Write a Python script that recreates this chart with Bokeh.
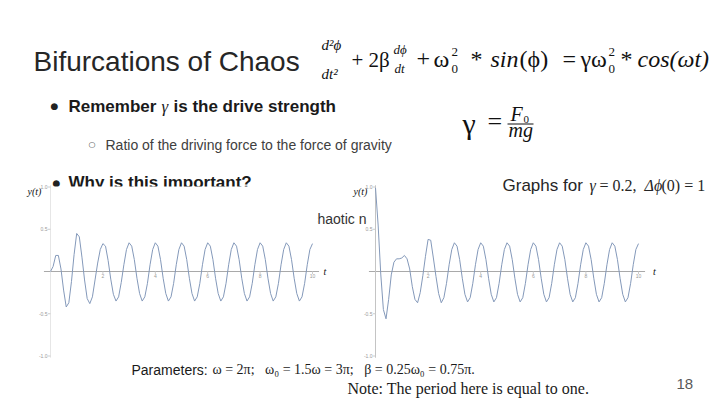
from bokeh.plotting import figure
from bokeh.models import Range1d
from bokeh.core.properties import value
from bokeh.embed import file_html
from bokeh.resources import INLINE

# ---------------- data ----------------
t_vals = [i / 10 for i in range(101)]          # sampling grid, t = 0 .. 10

y_left = [
    0.00, 0.06, 0.19, 0.19, 0.03, -0.22, -0.42, -0.37, -0.12, 0.20,
    0.45, 0.41, 0.17, -0.10, -0.32, -0.38, -0.30, -0.10, 0.10, 0.26,
    0.33, 0.30, 0.13, -0.09, -0.27, -0.35, -0.30, -0.13, 0.08, 0.26,
    0.34, 0.30, 0.14, -0.08, -0.26, -0.35, -0.30, -0.14, 0.08, 0.26,
    0.34, 0.30, 0.14, -0.08, -0.26, -0.35, -0.30, -0.14, 0.08, 0.26,
    0.34, 0.30, 0.14, -0.08, -0.26, -0.35, -0.30, -0.14, 0.08, 0.26,
    0.34, 0.30, 0.14, -0.08, -0.26, -0.35, -0.30, -0.14, 0.08, 0.26,
    0.34, 0.30, 0.14, -0.08, -0.26, -0.35, -0.30, -0.14, 0.08, 0.26,
    0.34, 0.30, 0.14, -0.08, -0.26, -0.35, -0.30, -0.14, 0.08, 0.26,
    0.34, 0.30, 0.14, -0.08, -0.26, -0.35, -0.30, -0.14, 0.08, 0.26,
    0.33,
]

y_right = [
    0.99, 0.55, -0.03, -0.45, -0.56, -0.33, -0.04, 0.11, 0.15, 0.15,
    0.16, 0.19, 0.15, 0.03, -0.18, -0.33, -0.37, -0.25, -0.05, 0.18,
    0.38, 0.37, 0.16, -0.06, -0.26, -0.37, -0.31, -0.14, 0.08, 0.26,
    0.34, 0.30, 0.14, -0.08, -0.27, -0.36, -0.31, -0.14, 0.08, 0.26,
    0.34, 0.30, 0.14, -0.08, -0.27, -0.36, -0.31, -0.14, 0.08, 0.26,
    0.34, 0.30, 0.14, -0.08, -0.27, -0.36, -0.31, -0.14, 0.08, 0.26,
    0.34, 0.30, 0.14, -0.08, -0.27, -0.36, -0.31, -0.14, 0.08, 0.26,
    0.34, 0.30, 0.14, -0.08, -0.27, -0.36, -0.31, -0.14, 0.08, 0.26,
    0.34, 0.30, 0.14, -0.08, -0.27, -0.36, -0.31, -0.14, 0.08, 0.26,
    0.34, 0.30, 0.14, -0.08, -0.27, -0.36, -0.31, -0.14, 0.08, 0.26,
    0.33,
]

x_ticks = [2, 4, 6, 8, 10]
x_tick_labels = ["2", "4", "6", "8", "10"]
y_ticks = [1.0, 0.5, -0.5, -1.0]
y_tick_labels = ["1.0", "0.5", "-0.5", "-1.0"]

# ---------------- figure (screen-pixel coordinates for slide text) ----------------
W, H = 720, 405
p = figure(width=W, height=H, output_backend="svg", toolbar_location=None,
           x_range=Range1d(0, W), y_range=Range1d(H, 0),
           x_axis_type=None, y_axis_type=None, min_border=0)
p.grid.visible = False
p.outline_line_color = None
p.background_fill_color = "white"
p.border_fill_color = "white"

SANS = "Liberation Sans"
SERIF = "Liberation Serif"
NB = "\u00a0"


def T(x, y, s, size, font=SANS, style="normal", color="#262626", align="left",
      baseline="alphabetic"):
    p.text(x=[x], y=[y], text=[s], text_font=value(font), text_font_size=f"{size}px",
           text_font_style=style, text_color=color, text_align=align,
           text_baseline=baseline)


# title
T(33, 61, "Bifurcations of Chaos", 28, color="#262626")

# equation
eq_col = "#111111"
T(321, 44, "d²ϕ", 15, SERIF, "italic", eq_col)
T(321, 73, "dt²", 15, SERIF, "italic", eq_col)
T(351, 59, "+" + NB + "2β", 21, SERIF, "normal", eq_col)
T(393, 49, "dϕ", 13, SERIF, "italic", eq_col)
T(394, 68, "dt", 13, SERIF, "italic", eq_col)
T(416, 58, "+", 24, SERIF, "normal", eq_col)
T(433, 58, "ω", 24, SERIF, "normal", eq_col)
T(451, 51, "2", 13, SERIF, "normal", eq_col)
T(451, 68, "0", 13, SERIF, "normal", eq_col)
T(470, 58, "*", 24, SERIF, "normal", eq_col)
T(490, 58, "sin", 24, SERIF, "italic", eq_col)
T(519, 58, "(ϕ)", 24, SERIF, "normal", eq_col)
T(562, 58, "=", 24, SERIF, "normal", eq_col)
T(580, 58, "γω", 24, SERIF, "normal", eq_col)
T(608, 51, "2", 13, SERIF, "normal", eq_col)
T(608, 68, "0", 13, SERIF, "normal", eq_col)
T(620, 58, "*", 24, SERIF, "normal", eq_col)
T(637, 58, "cos(ωt)", 24, SERIF, "italic", eq_col)

# bullet 1
T(50, 105, "●", 9, "DejaVu Sans", color="#222222")
T(68, 106, "Remember", 17, SANS, "bold", "#1a1a1a")
T(161, 106, "γ", 17, SERIF, "italic", "#1a1a1a")
T(173, 106, "is the drive strength", 17, SANS, "bold", "#1a1a1a")

# gamma = F0 / mg
T(462, 123, "γ", 30, SERIF, "normal", eq_col)
T(487, 121, "=", 26, SERIF, "normal", eq_col)
T(510, 113, "F", 20, SERIF, "italic", eq_col)
T(523, 119, "0", 11, SERIF, "normal", eq_col)
p.line(x=[507, 533], y=[123.5, 123.5], line_color=eq_col, line_width=1)
T(508, 129, "mg", 20, SERIF, "italic", eq_col)

# sub bullet
T(88, 144, "○", 8, "DejaVu Sans", color="#404040")
T(105, 144, "Ratio of the driving force to the force of gravity", 14, SANS, "normal", "#404040")

# bullet 2 (partly hidden under the graphs)
T(52, 182, "●", 9, "DejaVu Sans", color="#222222")
T(68, 182, "Why is this important?", 17, SANS, "bold", "#1a1a1a")
T(310, 218, "chaotic nature of the motion", 14, SANS, "normal", "#333333")

# white backgrounds of the two graph pictures
p.quad(left=[20, 366], right=[317, 668], top=[186, 186], bottom=[366, 362],
       fill_color="white", line_color=None)

# ---------------- the two graphs ----------------
curve_col = "#8499ba"


def graph(name, x0px, xscale, y0px, yscale, ys, yaxis_col, t_lab, ylab_x):
    p.extra_x_ranges[name] = Range1d((0 - x0px) / xscale, (W - x0px) / xscale)
    p.extra_y_ranges[name] = Range1d((y0px - H) / yscale, (y0px - 0) / yscale)
    kw = dict(x_range_name=name, y_range_name=name)
    # axes
    p.line(x=[-0.25, 10.25], y=[0, 0], line_color="#a9a9a9", line_width=1, **kw)
    p.line(x=[0, 0], y=[-1.02, 1.02], line_color=yaxis_col, line_width=1, **kw)
    # tick marks
    p.segment(x0=[0] * len(y_ticks), x1=[-0.1] * len(y_ticks), y0=y_ticks, y1=y_ticks,
              line_color="#cccccc", line_width=1, **kw)
    p.segment(x0=x_ticks, x1=x_ticks, y0=[0] * len(x_ticks), y1=[-0.03] * len(x_ticks),
              line_color="#cccccc", line_width=1, **kw)
    # tick labels
    p.text(x=x_ticks, y=[0] * len(x_ticks), text=x_tick_labels, text_font=value(SANS),
           text_font_size="5px", text_color="#9a9a9a", text_align="center",
           text_baseline="top", y_offset=2, **kw)
    p.text(x=[0] * len(y_ticks), y=y_ticks, text=y_tick_labels, text_font=value(SANS),
           text_font_size="5px", text_color="#9a9a9a", text_align="right",
           text_baseline="middle", x_offset=-3, **kw)
    # curve
    p.line(x=t_vals, y=ys, line_color=curve_col, line_width=1, **kw)
    # axis labels
    p.text(x=[t_lab], y=[0], text=["t"], text_font=value(SERIF), text_font_style="italic",
           text_font_size="10px", text_color="#111111", text_align="left",
           text_baseline="middle", **kw)
    T(ylab_x, 191, "y(t)", 10, SERIF, "italic", "#111111")


graph("L", 50, 26.2, 271, 84.5, y_left, "#e6e6e6", 10.42, 27)
graph("R", 375, 26.3, 271, 84.5, y_right, "#c4c4c4", 10.55, 353)

# graph caption
T(502, 185, "Graphs for", 17, SANS, "normal", "#262626")
T(589, 185, "γ", 16, SERIF, "italic", "#262626")
T(599, 185, "= 0.2,", 16, SERIF, "normal", "#262626")
T(644, 185, "Δϕ", 16, SERIF, "italic", "#262626")
T(661, 185, "(0) = 1", 16, SERIF, "normal", "#262626")

# bottom notes
T(131, 369, "Parameters:", 14, SANS, "normal", "#1a1a1a")
T(212, 369, f"ω = 2π;{NB}{NB}{NB}ω₀ = 1.5ω = 3π;{NB}{NB}{NB}β = 0.25ω₀ = 0.75π.", 14,
  SERIF, "normal", "#1a1a1a")
T(347, 388, "Note: The period here is equal to one.", 16, SERIF, "normal", "#1a1a1a")
T(676, 383, "18", 15, SANS, "normal", "#595959")

open("out.html", "w").write(file_html(p, INLINE))
